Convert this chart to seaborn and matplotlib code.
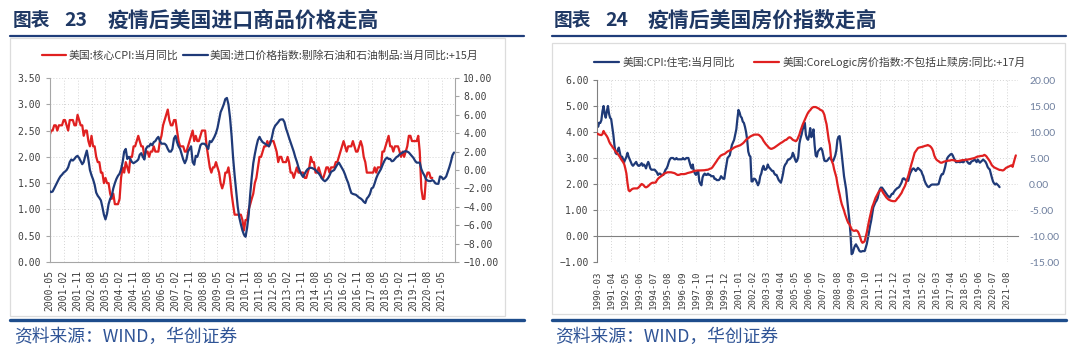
import numpy as np
import pandas as pd
import matplotlib
matplotlib.use("Agg")
import matplotlib.pyplot as plt
import matplotlib.dates as mdates
from matplotlib.patches import Rectangle
from matplotlib.lines import Line2D
from matplotlib.font_manager import FontProperties
import seaborn as sns

# ---------------- data: chart 23 ----------------
core_cpi_start = "2000-05-01"
core_cpi = [
    2.4, 2.5, 2.5, 2.6, 2.6, 2.5, 2.6, 2.6,
    2.6, 2.7, 2.7, 2.6, 2.5, 2.7, 2.7, 2.7, 2.6, 2.6, 2.8, 2.7,
    2.6, 2.6, 2.4, 2.5, 2.5, 2.3, 2.2, 2.4, 2.2, 2.2, 2.0, 1.9,
    1.9, 1.7, 1.7, 1.5, 1.6, 1.5, 1.5, 1.3, 1.2, 1.3, 1.1, 1.1,
    1.1, 1.2, 1.6, 1.8, 1.7, 1.9, 1.8, 1.7, 2.0, 2.0, 2.2, 2.2,
    2.3, 2.4, 2.3, 2.2, 2.2, 2.0, 2.1, 2.1, 2.0, 2.1, 2.1, 2.2,
    2.1, 2.1, 2.1, 2.3, 2.4, 2.6, 2.7, 2.8, 2.9, 2.7, 2.6, 2.6,
    2.7, 2.7, 2.5, 2.3, 2.2, 2.2, 2.2, 2.1, 2.1, 2.2, 2.3, 2.4,
    2.5, 2.3, 2.4, 2.3, 2.3, 2.4, 2.5, 2.5, 2.5, 2.2, 2.0, 1.8,
    1.7, 1.8, 1.8, 1.9, 1.8, 1.7, 1.5, 1.4, 1.5, 1.7, 1.7, 1.8,
    1.6, 1.3, 1.1, 0.9, 0.9, 0.9, 0.9, 0.9, 0.8, 0.6, 0.8, 0.8,
    1.0, 1.1, 1.2, 1.3, 1.5, 1.6, 1.8, 2.0, 2.0, 2.1, 2.2, 2.2,
    2.3, 2.2, 2.3, 2.3, 2.3, 2.2, 2.1, 1.9, 2.0, 2.0, 1.9, 1.9,
    1.9, 2.0, 1.9, 1.7, 1.7, 1.6, 1.7, 1.8, 1.7, 1.7, 1.7, 1.7,
    1.6, 1.6, 1.7, 1.8, 2.0, 1.9, 1.9, 1.7, 1.7, 1.8, 1.7, 1.6,
    1.6, 1.7, 1.8, 1.8, 1.7, 1.8, 1.8, 1.8, 1.9, 1.9, 2.0, 2.1,
    2.2, 2.3, 2.2, 2.1, 2.2, 2.2, 2.2, 2.3, 2.2, 2.1, 2.1, 2.2,
    2.3, 2.2, 2.0, 1.9, 1.7, 1.7, 1.7, 1.7, 1.7, 1.8, 1.7, 1.8,
    1.8, 1.8, 2.1, 2.1, 2.2, 2.3, 2.4, 2.2, 2.2, 2.1, 2.2, 2.2,
    2.2, 2.1, 2.0, 2.1, 2.0, 2.1, 2.2, 2.4, 2.4, 2.3, 2.3, 2.3,
    2.3, 2.4, 2.1, 1.4, 1.2, 1.2, 1.6, 1.7, 1.7, 1.6, 1.6,
]

import_px_start = "2000-05-01"   # already shifted +15 months
import_px = [
    -2.29, -2.40, -2.34, -2.00, -1.66, -1.31, -0.97, -0.69, -0.51, -0.29, -0.17, 0.00,
    0.29, 0.86, 1.14, 1.03, 1.20, 1.43, 1.54, 1.31, 0.97, 0.63, 0.86, 1.54,
    2.11, 1.14, 0.00, -0.57, -1.03, -1.60, -2.46, -2.80, -3.03, -3.31, -4.00, -4.86,
    -5.37, -4.74, -3.71, -3.14, -2.80, -2.00, -1.43, -0.97, -0.63, -0.40, 0.06, 0.86,
    2.00, 2.29, 1.20, 1.43, 1.14, 0.86, 0.74, 0.86, 0.97, 1.14, 1.66, 1.83,
    1.43, 1.14, 2.29, 2.57, 2.57, 2.86, 2.69, 3.03, 3.14, 3.43, 3.60, 3.14,
    2.86, 2.86, 2.86, 2.69, 2.29, 2.00, 2.00, 2.29, 3.43, 3.71, 3.03, 2.57,
    2.29, 1.71, 1.14, 0.74, 1.14, 2.00, 2.29, 2.57, 0.86, 0.57, 1.54, 1.43,
    2.00, 2.69, 2.86, 2.86, 2.80, 2.57, 2.29, 3.14, 3.03, 3.31, 3.60, 4.00,
    4.57, 5.43, 6.29, 6.69, 7.14, 7.71, 7.83, 7.14, 5.71, 3.71, 1.43, -0.57,
    -2.29, -4.00, -5.14, -5.89, -6.57, -7.03, -7.26, -6.29, -4.86, -2.57, -0.86, 0.74,
    1.71, 2.57, 3.26, 3.60, 3.26, 3.03, 2.91, 2.80, 2.69, 2.57, 2.9, 3.6,
    4.4, 4.8, 5.0, 5.2, 5.45, 5.5, 5.5, 5.2, 4.5, 4.0, 3.5, 3.0,
    2.5, 2.0, 1.4, 0.9, 0.3, -0.15, -0.5, -0.75, -0.4, -0.1, 0.1, 0.2,
    0.25, 0.2, 0.1, 0.0, -0.2, -0.35, -0.6, -0.9, -1.1, -1.22, -1.1, -0.9,
    -0.6, -0.2, -0.1, 0.0, 0.3, 0.6, 0.8, 0.5, 0.2, -0.1, -0.5, -1.0,
    -1.4, -2.0, -2.5, -2.6, -2.65, -2.7, -2.85, -3.0, -3.1, -3.25, -3.45, -3.59,
    -3.1, -2.9, -2.6, -2.0, -1.9, -1.45, -0.9, -0.5, -0.2, 0.1, 0.5, 0.9,
    1.2, 1.35, 1.2, 1.2, 0.95, 1.0, 1.2, 1.4, 1.5, 1.7, 1.8, 1.9,
    2.0, 2.05, 2.0, 1.9, 1.7, 1.5, 1.3, 1.0, 0.8, 0.8, 0.8, 0.1,
    -0.3, -0.6, -1.0, -1.15, -1.2, -1.2, -1.1, -1.2, -1.45, -1.5, -1.5, -0.7,
    -0.75, -1.0, -0.9, -0.7, -0.2, 0.3, 0.9, 1.6, 1.9,
]

left_xtick_start, left_xtick_end, left_xtick_step = "2000-05-01", "2021-05-01", "9MS"
left_y1_ticks = [0.0, 0.5, 1.0, 1.5, 2.0, 2.5, 3.0, 3.5]
left_y2_ticks = [-10, -8, -6, -4, -2, 0, 2, 4, 6, 8, 10]

# ---------------- data: chart 24 ----------------
cpi_housing_start = "1990-03-01"
cpi_housing = [
    4.4, 4.2, 4.35, 4.35, 4.45, 4.8, 5.0, 4.7, 4.55, 4.8, 5.0, 4.7,
    4.55, 4.5, 4.2, 3.9, 3.5, 3.2, 3.15, 3.3, 3.4, 3.2, 3.0, 3.05,
    2.95, 2.85, 2.95, 3.05, 3.2, 3.05, 2.95, 2.85, 2.75, 2.7, 2.75, 2.8,
    2.85, 2.75, 2.7, 2.7, 2.75, 2.8, 2.7, 2.75, 2.7, 2.6, 2.75, 2.85,
    2.75, 2.6, 2.55, 2.55, 2.55, 2.55, 2.5, 2.45, 2.35, 2.4, 2.4, 2.35,
    2.35, 2.35, 2.45, 2.55, 2.6, 2.7, 2.85, 2.95, 3.0, 3.0, 3.0, 2.95,
    2.95, 3.0, 2.95, 2.95, 2.95, 2.95, 2.95, 3.0, 2.95, 2.95, 3.0, 3.0,
    3.0, 2.85, 2.7, 2.6, 2.75, 2.5, 2.4, 2.35, 2.45, 2.5, 2.1, 2.0,
    1.95, 2.25, 2.35, 2.4, 2.35, 2.35, 2.4, 2.35, 2.35, 2.3, 2.3, 2.3,
    2.2, 2.2, 2.15, 2.15, 2.15, 2.2, 2.3, 2.25, 2.2, 2.2, 2.5, 2.75,
    3.0, 3.05, 3.1, 3.3, 3.5, 3.6, 3.7, 3.9, 4.1, 4.5, 4.85, 4.75,
    4.6, 4.55, 4.4, 4.35, 4.2, 4.0, 3.7, 3.25, 3.1, 3.05, 2.1, 2.1,
    2.2, 2.2, 2.15, 2.05, 1.95, 2.05, 2.3, 2.4, 2.6, 2.7, 2.55, 2.55,
    2.6, 2.75, 2.65, 2.6, 2.55, 2.5, 2.5, 2.4, 2.35, 2.35, 2.25, 2.15,
    2.1, 2.05, 2.2, 2.4, 2.65, 2.75, 2.8, 2.9, 2.95, 2.95, 3.0, 3.05,
    3.2, 3.1, 2.95, 2.85, 2.9, 3.05, 3.55, 3.75, 3.9, 4.1, 4.2, 4.35,
    3.9, 3.75, 3.7, 3.85, 4.15, 3.8, 3.9, 4.1, 3.5, 3.1, 3.05, 3.25,
    3.3, 3.35, 3.38, 3.3, 3.1, 2.9, 2.88, 2.88, 2.92, 2.98, 3.02, 2.96,
    2.9, 2.88, 2.98, 3.1, 3.3, 3.7, 3.82, 3.84, 3.5, 3.1, 2.7, 2.3,
    2.05, 1.8, 1.4, 1.0, 0.6, 0.1, -0.7, -0.66, -0.5, -0.38, -0.32, -0.4,
    -0.46, -0.56, -0.6, -0.6, -0.58, -0.58, -0.58, -0.45, -0.3, -0.08, 0.15, 0.4,
    0.58, 0.85, 1.1, 1.2, 1.3, 1.36, 1.46, 1.65, 1.8, 1.86, 1.86, 1.8,
    1.74, 1.68, 1.62, 1.56, 1.52, 1.48, 1.55, 1.62, 1.62, 1.7, 1.76, 1.8,
    1.84, 1.86, 1.9, 1.98, 2.06, 2.2, 2.22, 2.18, 2.14, 2.14, 2.12, 2.3,
    2.42, 2.5, 2.58, 2.6, 2.56, 2.5, 2.56, 2.62, 2.58, 2.54, 2.5, 2.38,
    2.3, 2.14, 2.04, 1.96, 1.9, 1.88, 1.92, 1.96, 1.98, 1.98, 1.98, 1.98,
    1.98, 1.98, 2.0, 2.15, 2.3, 2.38, 2.38, 2.5, 2.66, 2.86, 3.0, 3.06,
    3.1, 3.14, 3.16, 3.1, 3.0, 2.92, 2.84, 2.84, 2.88, 2.84, 2.84, 2.88,
    2.84, 2.84, 2.92, 2.94, 2.88, 2.82, 2.78, 2.78, 2.86, 2.88, 2.9, 2.94,
    2.9, 2.84, 2.94, 2.88, 2.82, 2.86, 2.9, 2.94, 2.9, 2.86, 2.78, 2.66,
    2.6, 2.56, 2.4, 2.24, 2.1, 2.02, 1.98, 2.02, 1.98, 1.94, 1.88,
]

corelogic_start = "1990-03-01"   # already shifted +17 months
corelogic = [
    9.7, 9.6, 9.5, 9.45, 9.4, 9.6, 10.2, 9.8, 9.5, 9.2, 8.8, 8.2,
    7.8, 7.5, 7.2, 6.9, 6.6, 6.3, 6.0, 5.8, 5.5, 5.2, 4.8, 4.5,
    4.2, 3.8, 3.0, 2.0, 0.2, -1.2, -1.4, -1.2, -1.0, -0.9, -0.85, -0.85,
    -0.85, -0.85, -0.7, -0.5, -0.2, 0.0, -0.1, -0.3, -0.55, -0.65, -0.55, -0.4,
    -0.2, 0.0, 0.15, 0.25, 0.25, 0.25, 0.3, 0.7, 1.0, 1.2, 1.35, 1.5,
    1.65, 1.85, 2.0, 2.1, 2.2, 2.25, 2.25, 2.25, 2.25, 2.2, 2.15, 2.1,
    2.0, 1.85, 1.75, 1.75, 1.8, 1.9, 1.9, 1.9, 1.9, 1.95, 2.0, 2.1,
    2.15, 2.2, 2.25, 2.3, 2.4, 2.5, 2.55, 2.55, 2.6, 2.6, 2.6, 2.6,
    2.62, 2.63, 2.65, 2.65, 2.7, 2.72, 2.75, 2.85, 2.95, 3.0, 3.2, 3.5,
    3.75, 4.1, 4.4, 4.75, 5.0, 5.3, 5.5, 5.6, 5.7, 5.75, 5.9, 6.1,
    6.25, 6.35, 6.45, 6.5, 6.7, 6.85, 7.0, 7.1, 7.2, 7.25, 7.35, 7.4,
    7.5, 7.65, 7.8, 8.0, 8.25, 8.5, 8.7, 8.8, 9.0, 9.15, 9.25, 9.35,
    9.45, 9.5, 9.5, 9.5, 9.5, 9.4, 9.2, 9.0, 8.7, 8.3, 8.0, 7.7,
    7.5, 7.25, 7.0, 6.85, 6.75, 6.8, 6.9, 7.0, 7.15, 7.3, 7.45, 7.6,
    7.75, 7.9, 8.0, 8.15, 8.3, 8.45, 8.5, 8.7, 8.9, 9.0, 8.9, 8.7,
    8.5, 8.4, 8.3, 8.25, 8.5, 9.0, 9.5, 10.2, 10.8, 11.4, 11.9, 12.4,
    12.9, 13.3, 13.7, 14.0, 14.2, 14.5, 14.7, 14.8, 14.8, 14.8, 14.7, 14.6,
    14.5, 14.3, 14.2, 14.1, 13.8, 13.3, 12.3, 11.5, 10.0, 8.5, 7.5, 5.2,
    4.3, 3.8, 2.8, 2.0, 1.3, 0.0, -1.1, -2.0, -3.1, -3.9, -4.5, -5.1,
    -5.8, -6.4, -7.0, -7.5, -7.7, -8.2, -8.7, -8.9, -9.0, -9.0, -8.9, -9.0,
    -9.2, -9.7, -10.3, -11.0, -11.3, -11.2, -11.0, -10.2, -9.3, -8.2, -7.1, -6.2,
    -5.3, -4.4, -3.9, -3.3, -2.7, -2.3, -1.9, -1.5, -1.3, -1.0, -1.3, -1.7,
    -2.0, -2.3, -2.6, -2.8, -3.0, -3.1, -3.2, -3.25, -3.3, -3.3, -3.3, -3.1,
    -2.8, -2.6, -2.3, -2.0, -1.7, -1.2, -0.8, -0.4, 0.2, 0.9, 1.5, 2.3,
    3.0, 3.8, 4.5, 5.3, 6.0, 6.3, 6.6, 6.9, 7.0, 7.05, 7.1, 7.15,
    7.2, 7.3, 7.35, 7.4, 7.5, 7.4, 7.3, 7.1, 6.8, 6.3, 5.5, 5.0,
    4.7, 4.5, 4.4, 4.2, 4.1, 4.1, 4.2, 4.3, 4.35, 4.4, 4.45, 4.5,
    4.5, 4.55, 4.6, 4.6, 4.55, 4.5, 4.45, 4.4, 4.4, 4.45, 4.5, 4.55,
    4.6, 4.6, 4.6, 4.65, 4.7, 4.7, 4.75, 4.8, 4.85, 4.9, 4.95, 5.0,
    5.1, 5.2, 5.3, 5.3, 5.35, 5.4, 5.4, 5.45, 5.6, 5.5, 5.3, 5.0,
    4.7, 4.4, 4.0, 3.6, 3.4, 3.2, 3.1, 3.0, 2.9, 2.8, 2.7, 2.7,
    2.65, 2.6, 2.7, 2.9, 3.1, 3.2, 3.3, 3.4, 3.5, 3.6, 3.3, 4.1,
    4.8, 5.5,
]

right_xtick_start, right_xtick_end, right_xtick_step = "1990-03-01", "2021-08-01", "13MS"
right_y1_ticks = [-1, 0, 1, 2, 3, 4, 5, 6]
right_y2_ticks = [-15, -10, -5, 0, 5, 10, 15, 20]

# ---------------- texts ----------------
title_l = ("图表", "23", "疫情后美国进口商品价格走高")
title_r = ("图表", "24", "疫情后美国房价指数走高")
legend_l = ["美国:核心CPI:当月同比", "美国:进口价格指数:剔除石油和石油制品:当月同比:+15月"]
legend_r = ["美国:CPI:住宅:当月同比", "美国:CoreLogic房价指数:不包括止赎房:同比:+17月"]
source_txt = "资料来源：WIND，华创证券"

# ---------------- style ----------------
sns.set_style("white")
plt.rcParams["font.family"] = ["DejaVu Sans Mono", "Noto Sans CJK SC"]
CJK = ["Noto Sans CJK SC", "DejaVu Sans"]
RED = "#E02020"
NAVY = "#1F3A78"
TITLE_C = "#1F3864"
GRID_C = "#d4d4d4"
SPINE_C = "#a6a6a6"
TXT_C = "#404040"

W, H = 1080, 361
fig = plt.figure(figsize=(W / 100, H / 100), dpi=100)
fig.patch.set_facecolor("white")


def fx(p):
    return p / W


def fy(p):
    return 1 - p / H


def mono_fmt(v):
    return f"{v:.2f}".replace("-", "\u2212")


# ======== frames, titles, rules ========
for (x0, x1, ytop, ybot) in [(10, 505, 38, 315.5), (552, 1065, 43, 314)]:
    fig.patches.append(Rectangle((fx(x0), fy(ybot)), fx(x1 - x0), (ybot - ytop) / H,
                                 transform=fig.transFigure, fill=False,
                                 edgecolor="#dcdcdc", lw=0.9, zorder=0))
for (x0, x1) in [(10, 524), (552, 1066)]:
    fig.lines.append(Line2D([fx(x0), fx(x1)], [fy(35.5), fy(35.5)], transform=fig.transFigure,
                            color="#1F3D7A", lw=1.6))
    fig.lines.append(Line2D([fx(x0), fx(x1)], [fy(320), fy(320)], transform=fig.transFigure,
                            color="#1E4D8C", lw=2.4))

for (xs, parts) in [((13, 64, 107), title_l), ((554, 605, 647), title_r)]:
    for x, t, s in zip(xs, parts, (13.5, 14, 15)):
        fig.text(fx(x), fy(20), t, family=CJK, fontsize=s, fontweight="bold",
                 color=TITLE_C, ha="left", va="center")

for x in (14, 555):
    fig.text(fx(x), fy(337), source_txt, family=CJK, fontsize=12.8, color="#2F5496",
             ha="left", va="center")

# ======== chart 23 ========
d_core = pd.date_range(core_cpi_start, periods=len(core_cpi), freq="MS")
d_imp = pd.date_range(import_px_start, periods=len(import_px), freq="MS")

ax1 = fig.add_axes([fx(49.5), fy(262), fx(455 - 49.5), (262 - 78) / H])
sns.lineplot(x=d_core, y=core_cpi, ax=ax1, color=RED, lw=1.6, estimator=None)
ax1b = ax1.twinx()
sns.lineplot(x=d_imp, y=import_px, ax=ax1b, color=NAVY, lw=1.6, estimator=None)

ax1.set_xlim(pd.Timestamp("2000-05-01"), pd.Timestamp("2022-01-20"))
ax1.set_ylim(0, 3.5)
ax1b.set_ylim(-10, 10)
lt = pd.date_range(left_xtick_start, left_xtick_end, freq=left_xtick_step)
ax1.set_xticks(lt, labels=[t.strftime("%Y-%m") for t in lt], rotation=90,
               fontsize=7, color=TXT_C)
ax1.set_yticks(left_y1_ticks, labels=[mono_fmt(v) for v in left_y1_ticks],
               fontsize=7, color=TXT_C)
ax1b.set_yticks(left_y2_ticks, labels=[mono_fmt(v) for v in left_y2_ticks],
                fontsize=7, color=TXT_C)
for a in (ax1, ax1b):
    a.set_xlabel("")
    a.set_ylabel("")
ax1.grid(True, linestyle=(0, (1, 2)), color=GRID_C, lw=0.7)
ax1b.grid(False)
ax1.spines["top"].set_visible(False)
ax1.spines["right"].set_visible(False)
for s in ("left", "bottom"):
    ax1.spines[s].set_color(SPINE_C)
for s in ("top", "left", "bottom"):
    ax1b.spines[s].set_visible(False)
ax1b.spines["right"].set_color(SPINE_C)
ax1.tick_params(axis="both", length=3, width=0.8, color=SPINE_C, pad=3)
ax1b.tick_params(axis="y", length=3, width=0.8, color=SPINE_C, pad=3)

leg_prop = FontProperties(family=CJK, size=7.8)
fig.legend([ax1.get_lines()[0], ax1b.get_lines()[0]], legend_l, loc="center",
           bbox_to_anchor=(fx(260), fy(55)), ncol=2, frameon=False, prop=leg_prop,
           labelcolor=TXT_C, handlelength=2.3, handletextpad=0.2, columnspacing=0.4,
           borderpad=0, borderaxespad=0)

# ======== chart 24 ========
d_hou = pd.date_range(cpi_housing_start, periods=len(cpi_housing), freq="MS")
d_cl = pd.date_range(corelogic_start, periods=len(corelogic), freq="MS")

ax2 = fig.add_axes([fx(597), fy(262), fx(1018 - 597), (262 - 80) / H])
sns.lineplot(x=d_hou, y=cpi_housing, ax=ax2, color=NAVY, lw=1.6, estimator=None)
ax2b = ax2.twinx()
sns.lineplot(x=d_cl, y=corelogic, ax=ax2b, color=RED, lw=1.6, estimator=None)

ax2.set_xlim(pd.Timestamp("1990-03-01"), pd.Timestamp("2022-06-01"))
ax2.set_ylim(-1, 6)
ax2b.set_ylim(-15, 20)
rt = pd.date_range(right_xtick_start, right_xtick_end, freq=right_xtick_step)
ax2.set_xticks(rt)
ax2.tick_params(axis="x", labelbottom=False, length=4, width=0.8, color="#808080")
ax2.spines["bottom"].set_position(("data", 0))
ax2.spines["bottom"].set_color("#808080")
ax2.spines["left"].set_color("#808080")
ax2.spines["top"].set_visible(False)
ax2.spines["right"].set_visible(False)
ax2.set_yticks(right_y1_ticks, labels=[mono_fmt(v) for v in right_y1_ticks],
               fontsize=7, color=TXT_C)
ax2.tick_params(axis="y", length=3, width=0.8, color="#808080", pad=3)
ax2.grid(True, linestyle=(0, (1, 2)), color=GRID_C, lw=0.7)
ax2b.grid(False)
for s in ax2b.spines.values():
    s.set_visible(False)
ax2b.set_yticks(right_y2_ticks, labels=[f"{v:.2f}" for v in right_y2_ticks],
                fontsize=7.5, family="Lato", color="#6E7F9E")
ax2b.tick_params(axis="y", length=0, pad=8)
for a in (ax2, ax2b):
    a.set_xlabel("")
    a.set_ylabel("")

sec = ax2.secondary_xaxis("bottom")
sec.set_xticks(mdates.date2num(rt), labels=[t.strftime("%Y-%m") for t in rt],
               rotation=90, fontsize=6.6, color=TXT_C)
sec.tick_params(length=0, pad=6)
sec.spines["bottom"].set_visible(False)

fig.legend([ax2.get_lines()[0], ax2b.get_lines()[0]], legend_r, loc="center",
           bbox_to_anchor=(fx(810), fy(62)), ncol=2, frameon=False, prop=leg_prop,
           labelcolor=TXT_C, handlelength=2.3, handletextpad=0.3, columnspacing=1.8,
           borderpad=0, borderaxespad=0)

fig.savefig("out.png", dpi=100, facecolor="white")
